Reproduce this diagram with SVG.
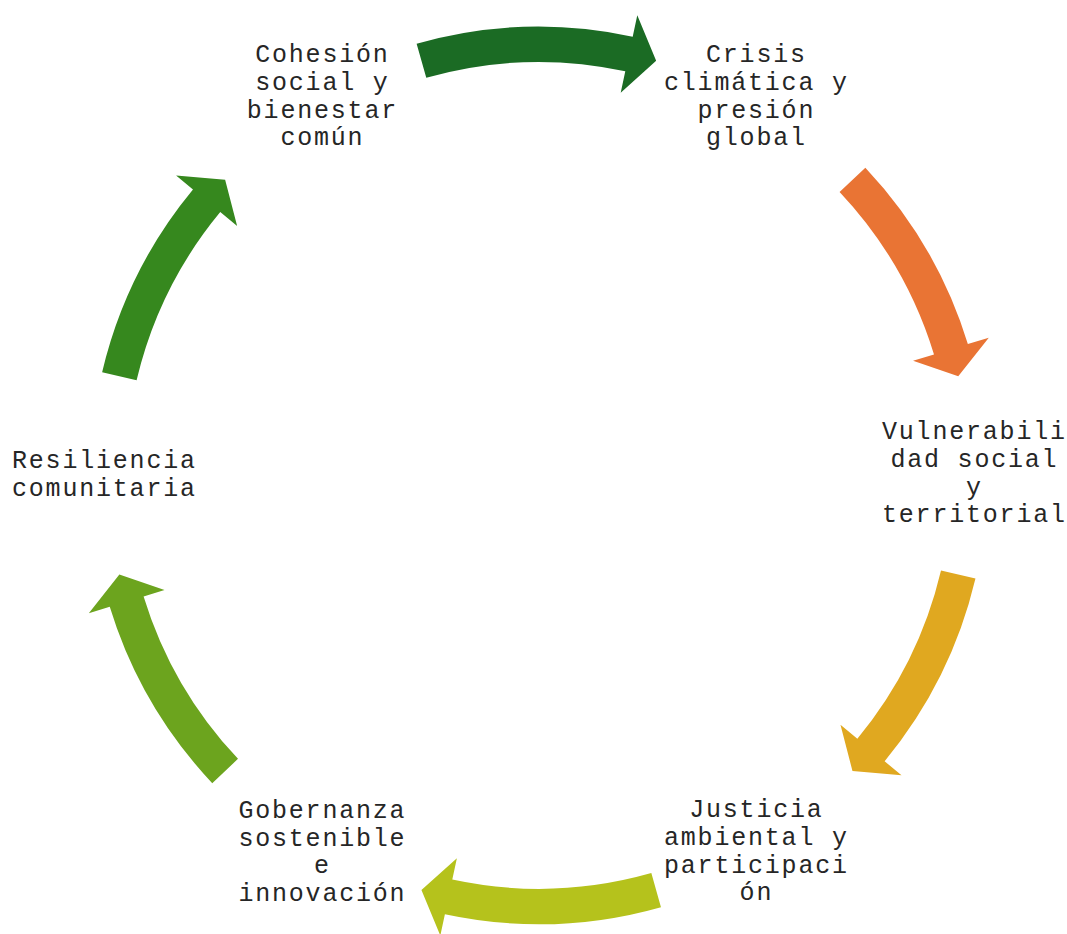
<svg xmlns="http://www.w3.org/2000/svg" xmlns:xlink="http://www.w3.org/1999/xlink" width="1067" height="934" viewBox="0 0 1067 934">
  <style>
    .lbl { font-family: "Liberation Mono", "Courier New", monospace; font-size: 25px; letter-spacing: 1.8px; fill: #262626; text-anchor: middle; }
  </style>
  <defs>
    <path id="arrA" d="M448.7,0 A448.7,448.7 0 0 1 396.62,209.82 L415.98,220.06 L367.09,225.84 L345.97,183.03 L365.33,193.27 A413.3,413.3 0 0 0 413.3,0 Z"/>
    <path id="arrB" d="M448.7,0 A448.7,448.7 0 0 1 402.32,198.67 L421.96,208.36 L373.26,215.5 L350.95,173.3 L370.58,182.99 A413.3,413.3 0 0 0 413.3,0 Z"/>
  </defs>
  <rect width="1067" height="934" fill="#ffffff"/>
  <g id="connectors">
    <use xlink:href="#arrA" href="#arrA" transform="translate(538.8,475.4) rotate(-105.8)" fill="#1B6B24"/>
    <use xlink:href="#arrB" href="#arrB" transform="translate(538.8,475.4) rotate(-43.3)" fill="#E97434"/>
    <use xlink:href="#arrB" href="#arrB" transform="translate(538.8,475.4) rotate(13.3)" fill="#E0A820"/>
    <use xlink:href="#arrA" href="#arrA" transform="translate(538.8,475.4) rotate(74.2)" fill="#B5C21C"/>
    <use xlink:href="#arrB" href="#arrB" transform="translate(538.8,475.4) rotate(136.7)" fill="#6CA41E"/>
    <use xlink:href="#arrB" href="#arrB" transform="translate(538.8,475.4) rotate(193.3)" fill="#36881E"/>
  </g>
  <g id="node-cohesion">
    <text class="lbl"><tspan x="322.4" y="62">Cohesión</tspan><tspan x="322.4" y="89.8">social y</tspan><tspan x="322.4" y="117.6">bienestar</tspan><tspan x="322.4" y="145.4">común</tspan></text>
  </g>
  <g id="node-crisis">
    <text class="lbl"><tspan x="756.4" y="62">Crisis</tspan><tspan x="756.4" y="89.8">climática y</tspan><tspan x="756.4" y="117.6">presión</tspan><tspan x="756.4" y="145.4">global</tspan></text>
  </g>
  <g id="node-vulnerabilidad">
    <text class="lbl"><tspan x="974.4" y="439.3">Vulnerabili</tspan><tspan x="974.4" y="467">dad social</tspan><tspan x="974.4" y="494.7">y</tspan><tspan x="974.4" y="522.4">territorial</tspan></text>
  </g>
  <g id="node-justicia">
    <text class="lbl"><tspan x="756.4" y="817.3">Justicia</tspan><tspan x="756.4" y="845">ambiental y</tspan><tspan x="756.4" y="872.7">participaci</tspan><tspan x="756.4" y="900.4">ón</tspan></text>
  </g>
  <g id="node-gobernanza">
    <text class="lbl"><tspan x="322.4" y="817.8">Gobernanza</tspan><tspan x="322.4" y="845.5">sostenible</tspan><tspan x="322.4" y="873.2">e</tspan><tspan x="322.4" y="900.9">innovación</tspan></text>
  </g>
  <g id="node-resiliencia">
    <text class="lbl"><tspan x="104.4" y="467.8">Resiliencia</tspan><tspan x="104.4" y="495.5">comunitaria</tspan></text>
  </g>
</svg>
